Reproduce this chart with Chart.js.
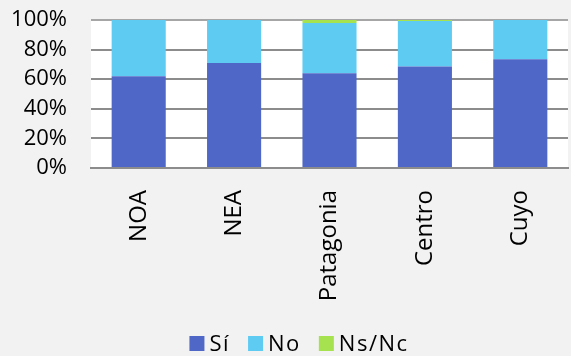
<!DOCTYPE html>
<html>
<head>
<meta charset="utf-8">
<script src="https://cdn.jsdelivr.net/npm/chart.js@4/dist/chart.umd.min.js"></script>
<style>
  html, body { margin: 0; padding: 0; background: #f2f2f2; }
  #wrap { width: 571px; height: 356px; position: relative; }
</style>
</head>
<body>
<div id="wrap"><canvas id="c"></canvas></div>
<script>
// Regions and answer shares (percent)
const regiones = ['NOA', 'NEA', 'Patagonia', 'Centro', 'Cuyo'];
const si   = [62, 71, 64, 68.5, 73.4];
const no   = [38, 29, 34, 30.8, 26.6];
const nsnc = [0, 0, 2, 0.7, 0];
const yTicks = [0, 20, 40, 60, 80, 100];

// White plot area on the grey page
const plotBg = {
  id: 'plotBg',
  beforeDraw(chart) {
    const { ctx, chartArea: a } = chart;
    ctx.save();
    ctx.fillStyle = '#ffffff';
    ctx.fillRect(a.left, a.top, a.right - a.left, a.bottom - a.top);
    ctx.restore();
  }
};

// Single-row legend under the axis labels, built from the datasets
const bottomLegend = {
  id: 'bottomLegend',
  afterDraw(chart, args, opts) {
    const { ctx } = chart;
    const box = opts.box, gapText = opts.gapText, gapItem = opts.gapItem;
    ctx.save();
    ctx.font = opts.size + 'px ' + opts.family;
    if ('letterSpacing' in ctx) ctx.letterSpacing = opts.spacing;
    ctx.textBaseline = 'middle';
    ctx.textAlign = 'left';
    const items = chart.data.datasets.map(d => ({
      text: d.label, color: d.backgroundColor, w: ctx.measureText(d.label).width
    }));
    const total = items.reduce((s, it) => s + box + gapText + it.w, 0) + gapItem * (items.length - 1);
    let x = opts.centerX - total / 2;
    const y = opts.centerY;
    items.forEach(it => {
      ctx.fillStyle = it.color;
      ctx.fillRect(x, y - box / 2, box, box);
      x += box + gapText;
      ctx.fillStyle = '#000';
      ctx.fillText(it.text, x, y + 1);
      x += it.w + gapItem;
    });
    ctx.restore();
  }
};

new Chart(document.getElementById('c'), {
  type: 'bar',
  data: {
    labels: regiones,
    datasets: [
      { label: 'Sí', data: si, backgroundColor: '#4f67c6' },
      { label: 'No', data: no, backgroundColor: '#5ecbf3' },
      { label: 'Ns/Nc', data: nsnc, backgroundColor: '#a6e24f' }
    ]
  },
  options: {
    responsive: true,
    maintainAspectRatio: false,
    animation: false,
    layout: { padding: { top: 20, right: 3, left: 0, bottom: 48 } },
    datasets: { bar: { barPercentage: 0.567, categoryPercentage: 1, borderWidth: 0 } },
    plugins: {
      legend: { display: false },
      tooltip: { enabled: false },
      bottomLegend: {
        box: 15, gapText: 5, gapItem: 18,
        centerX: 299, centerY: 343.5,
        family: 'Open Sans', size: 22, spacing: '1.5px'
      }
    },
    scales: {
      x: {
        stacked: true,
        grid: { display: false },
        border: { color: '#8c8c8c', width: 2 },
        ticks: {
          color: '#000', minRotation: 90, maxRotation: 90, padding: 14,
          font: { family: 'Open Sans', size: 24 }
        },
        afterFit(s) { s.height = 140; }
      },
      y: {
        stacked: true,
        min: 0, max: 100,
        afterBuildTicks(s) { s.ticks = yTicks.map(v => ({ value: v })); },
        grid: {
          color: c => (c.tick && c.tick.value === 100 ? '#a6a6a6' : '#8c8c8c'),
          lineWidth: 2, drawTicks: true, tickLength: 24, tickColor: 'rgba(0,0,0,0)'
        },
        border: { display: false },
        ticks: {
          color: '#000', padding: 0, autoSkip: false,
          font: { family: 'Open Sans', size: 22 },
          callback: v => v + '%'
        },
        afterFit(s) { s.width = 91; }
      }
    }
  },
  plugins: [plotBg, bottomLegend]
});
</script>
</body>
</html>
